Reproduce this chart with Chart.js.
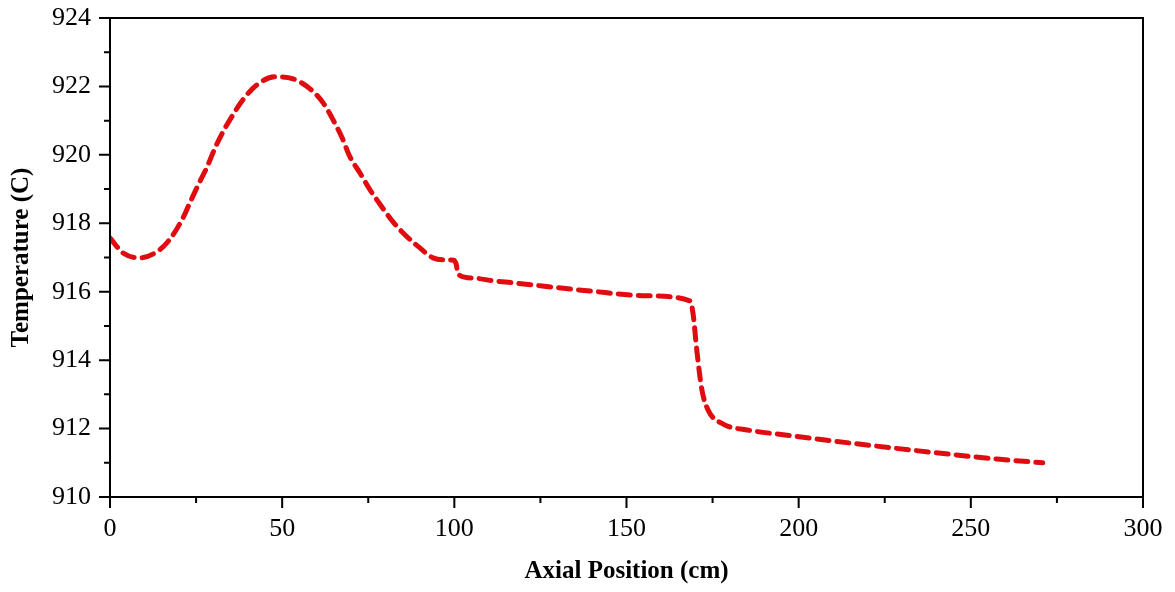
<!DOCTYPE html>
<html>
<head>
<meta charset="utf-8">
<script src="https://cdn.jsdelivr.net/npm/chart.js@4"></script>
<style>
  html, body { margin: 0; padding: 0; background: #fff; }
  #wrap { width: 1175px; height: 592px; }
</style>
</head>
<body>
<div id="wrap"><canvas id="grafico"></canvas></div>
<script>
// Axial position (cm) and temperature (C)
var posicao = [0, 3.8, 8.7, 13, 16.8, 20.9, 23.2, 25.6, 28.2, 30.5, 32.8, 35.7, 38.6, 42.7, 47.9,
  53.2, 58.1, 61.9, 64.8, 67.4, 69.7, 72.6, 75.5, 78.1, 82.2, 85.7, 90, 93.8, 97.9, 99.8,
  100.6, 101, 105.4, 111.2, 117, 139.4, 156, 168.5, 169.3, 170.5, 171.9, 173.7, 178.1,
  185, 195.5, 219.8, 257.6, 270.9];
var temperatura = [917.57, 917.13, 916.99, 917.13, 917.46, 918.10, 918.60, 919.12, 919.65, 920.20,
  920.67, 921.17, 921.61, 922.05, 922.28, 922.22, 921.93, 921.52, 921.02, 920.50, 919.94,
  919.47, 918.98, 918.60, 918.04, 917.66, 917.28, 916.99, 916.93, 916.92, 916.78, 916.52,
  916.40, 916.32, 916.26, 916.02, 915.88, 915.73, 915.38, 914.21, 913.13, 912.54, 912.13,
  911.96, 911.82, 911.52, 911.11, 911.00];

var xMajor = [0, 50, 100, 150, 200, 250, 300];
var yMajor = [910, 912, 914, 916, 918, 920, 922, 924];

var pontos = posicao.map(function (x, i) { return { x: x, y: temperatura[i] }; });

// frame + outward ticks (major and minor)
var moldura = {
  id: 'moldura',
  afterDraw: function (chart) {
    var ctx = chart.ctx, a = chart.chartArea;
    var sx = chart.scales.x, sy = chart.scales.y;
    ctx.save();
    ctx.strokeStyle = '#000';
    ctx.lineWidth = 2;
    ctx.strokeRect(a.left, a.top, a.right - a.left, a.bottom - a.top);
    ctx.beginPath();
    for (var v = 0; v <= 300; v += 25) {
      var px = sx.getPixelForValue(v);
      var len = (v % 50 === 0) ? 11 : 6;
      ctx.moveTo(px, a.bottom);
      ctx.lineTo(px, a.bottom + len);
    }
    for (var t = 910; t <= 924; t += 1) {
      var py = sy.getPixelForValue(t);
      var l2 = (t % 2 === 0) ? 11 : 6;
      ctx.moveTo(a.left, py);
      ctx.lineTo(a.left - l2, py);
    }
    ctx.stroke();
    ctx.restore();
  }
};

var fonte = 'Liberation Serif, Times New Roman, serif';

new Chart(document.getElementById('grafico'), {
  type: 'line',
  data: {
    datasets: [{
      data: pontos,
      borderColor: 'rgb(224, 12, 16)',
      borderWidth: 5,
      borderDash: [12, 8],
      borderCapStyle: 'round',
      pointRadius: 0,
      fill: false,
      cubicInterpolationMode: 'monotone'
    }]
  },
  options: {
    responsive: true,
    maintainAspectRatio: false,
    animation: false,
    layout: { padding: { top: 18, right: 32, left: 0, bottom: 0 } },
    plugins: { legend: { display: false }, tooltip: { enabled: false } },
    scales: {
      x: {
        type: 'linear',
        min: 0,
        max: 300,
        afterBuildTicks: function (s) { s.ticks = xMajor.map(function (v) { return { value: v }; }); },
        afterFit: function (s) { s.height = 95; s.paddingLeft = 0; s.paddingRight = 0; },
        grid: { display: false },
        border: { display: false },
        ticks: { color: '#000', padding: 9, maxRotation: 0, font: { family: fonte, size: 26 } },
        title: {
          display: true,
          text: 'Axial Position (cm)',
          color: '#000',
          padding: { top: 0, bottom: 5 },
          font: { family: fonte, size: 25, weight: 'bold' }
        }
      },
      y: {
        min: 910,
        max: 924,
        afterBuildTicks: function (s) { s.ticks = yMajor.map(function (v) { return { value: v }; }); },
        afterFit: function (s) { s.width = 110; s.paddingTop = 0; s.paddingBottom = 0; },
        grid: { display: false },
        border: { display: false },
        ticks: { color: '#000', padding: 11, font: { family: fonte, size: 26 } },
        title: {
          display: true,
          text: 'Temperature (C)',
          color: '#000',
          padding: { top: 7, bottom: 0 },
          font: { family: fonte, size: 25, weight: 'bold' }
        }
      }
    }
  },
  plugins: [moldura]
});
</script>
</body>
</html>
